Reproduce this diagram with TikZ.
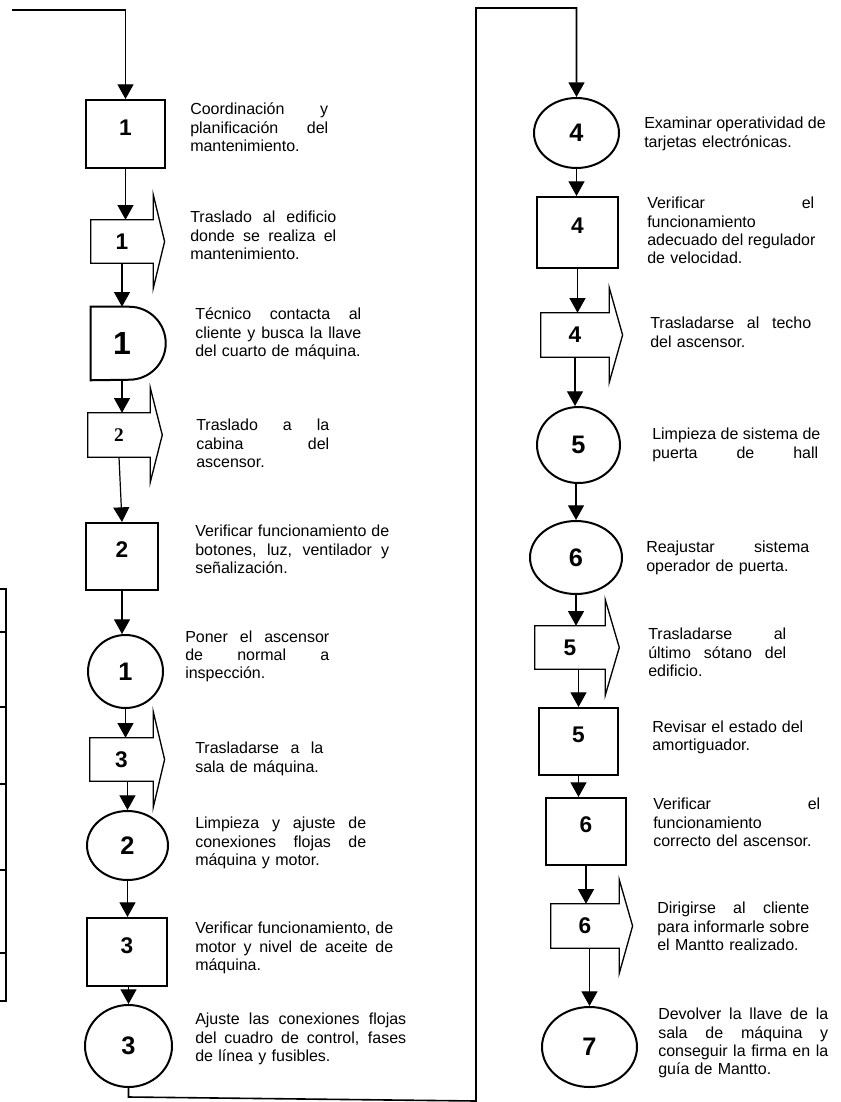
\documentclass[tikz,border=0pt]{standalone}
\usepackage{fontspec}
\setmainfont{Liberation Sans}
\newfontfamily\timesfont{Liberation Serif}
\usepackage{tikz}
\usetikzlibrary{arrows.meta}
\usetikzlibrary{shapes.geometric}

\newcommand{\numfont}{\fontsize{17}{19}\selectfont\bfseries}
\newcommand{\opfont}{\fontsize{19}{21}\selectfont\bfseries}
\newcommand{\notefont}{\fontsize{12}{13.8}\selectfont\parindent=0pt}
\newcommand{\spread}[1]{\leavevmode\hbox to \hsize{\spaceskip=0.278em plus 1fil\strut #1}}
\newcommand{\jline}[1]{\spread{#1}\\}

\begin{document}
\begin{tikzpicture}[x=0.75pt,y=-0.75pt,
            flow/.style={-{Triangle[length=11pt,width=12pt]},line width=0.9pt},
            insp/.style={draw,line width=1.5pt,inner sep=0pt,text depth=10pt,font=\numfont},
            oper/.style={ellipse,draw,line width=1.5pt,inner sep=0pt,font=\opfont},
            trans/.style={inner sep=0pt,font=\numfont},
            outline/.style={line width=1pt},
            note/.style={anchor=north west,inner sep=0pt,align=left,font=\notefont}]
            \useasboundingbox (0,0) rectangle (841,1102);

            \node[insp,minimum width=59.25pt,minimum height=51pt] (b1) at (125.5,134) {1};
            \node[trans,minimum width=46.5pt,minimum height=32.25pt] (t1) at (122,241.5) {1};
            \node[trans,font=\fontsize{24}{26}\selectfont\bfseries,minimum width=46.5pt,minimum height=54.75pt] (d1) at (122,343.5) {1};
            \node[trans,font=\timesfont\fontsize{14.5}{16}\selectfont\bfseries,minimum width=46.5pt,minimum height=33pt] (t2) at (119,435) {2};
            \node[insp,minimum width=54pt,minimum height=50.25pt] (b2) at (122,556.5) {2};
            \node[oper,minimum width=56.25pt,minimum height=54.75pt] (c1) at (125.5,671.5) {1};
            \node[trans,minimum width=47.25pt,minimum height=32.25pt] (t3) at (121.5,759.5) {3};
            \node[oper,minimum width=60.75pt,minimum height=51.75pt] (c2) at (127.5,845.5) {2};
            \node[insp,minimum width=60pt,minimum height=51pt] (b3) at (127,952) {3};
            \node[oper,minimum width=65.25pt,minimum height=61.5pt] (c3) at (128.5,1046) {3};

            \node[oper,minimum width=63.75pt,minimum height=52.5pt] (c4) at (576.5,133) {4};
            \node[insp,minimum width=60.75pt,minimum height=53.25pt] (b4) at (577.5,232.5) {4};
            \node[trans,minimum width=51pt,minimum height=33pt] (t4) at (575,335) {4};
            \node[oper,minimum width=62.25pt,minimum height=57pt] (c5) at (578.5,445) {5};
            \node[oper,minimum width=69pt,minimum height=54.75pt] (c6) at (576,557.5) {6};
            \node[trans,minimum width=52.5pt,minimum height=32.25pt] (t5) at (570,647.5) {5};
            \node[insp,minimum width=59.25pt,minimum height=50.25pt] (b5) at (578.5,741.5) {5};
            \node[insp,minimum width=60pt,minimum height=50.25pt] (b6) at (586,831.5) {6};
            \node[trans,minimum width=51pt,minimum height=33pt] (t6) at (585,926) {6};
            \node[oper,minimum width=71.25pt,minimum height=60pt] (c7) at (589.5,1047) {7};

            \draw[outline] (t1.south west) -- (t1.north west) -- (t1.north east) -- ([yshift=18.75pt]t1.north east) -- ([xshift=8.5pt]t1.east) -- ([yshift=-18.75pt]t1.south east) -- (t1.south east) -- cycle;
            \draw[outline] (t2.south west) -- (t2.north west) -- (t2.north east) -- ([yshift=18.75pt]t2.north east) -- ([xshift=9pt]t2.east) -- ([yshift=-18.75pt]t2.south east) -- (t2.south east) -- cycle;
            \draw[outline] (t3.south west) -- (t3.north west) -- (t3.north east) -- ([yshift=19.5pt]t3.north east) -- ([xshift=8.5pt]t3.east) -- ([yshift=-19.5pt]t3.south east) -- (t3.south east) -- cycle;
            \draw[outline] (t4.south west) -- (t4.north west) -- (t4.north east) -- ([yshift=18.75pt]t4.north east) -- ([xshift=10pt]t4.east) -- ([yshift=-18.75pt]t4.south east) -- (t4.south east) -- cycle;
            \draw[outline] (t5.south west) -- (t5.north west) -- (t5.north east) -- ([yshift=19.5pt]t5.north east) -- ([xshift=10.5pt]t5.east) -- ([yshift=-19.5pt]t5.south east) -- (t5.south east) -- cycle;
            \draw[outline] (t6.south west) -- (t6.north west) -- (t6.north east) -- ([yshift=18pt]t6.north east) -- ([xshift=10pt]t6.east) -- ([yshift=-18.75pt]t6.south east) -- (t6.south east) -- cycle;
            \draw[line width=1.5pt] (d1.south west) -- (d1.north west) -- ++(38.5,0) arc[start angle=-90,end angle=90,radius=36.5] -- cycle;

            \coordinate (start) at (12,10);
            \draw[line width=1.8pt] (start) -- (b1.north |- start);
            \draw[flow] (b1.north |- start) -- (b1.north);
            \draw[flow] (b1.south) -- (b1.south |- t1.north);
            \draw[flow] (t1.south) -- (t1.south |- d1.north);
            \draw[flow] (d1.south) -- (d1.south |- t2.north);
            \draw[flow] (t2.south) -- (b2.north);
            \draw[flow] (b2.south) -- (b2.south |- c1.north);
            \draw[flow] (c1.south) -- (c1.south |- t3.north);
            \draw[flow] (t3.south -| c2.north) -- (c2.north);
            \draw[flow] (c2.south) -- (c2.south |- b3.north);
            \draw[flow] (b3.south -| c3.north) -- (c3.north);

            \coordinate (loopa) at (130,1097);
            \coordinate (loopb) at (476,1101);
            \coordinate (loopc) at (476,8);
            \draw[flow,line width=1.2pt] (c3.south) -- (c3.south |- loopa) -- (loopb) -- (loopc) -- (c4.north |- loopc) -- (c4.north);

            \draw[flow] (c4.south) -- (c4.south |- b4.north);
            \draw[flow] (b4.south) -- (b4.south |- t4.north);
            \draw[flow] (t4.south) -- (t4.south |- c5.north);
            \draw[flow] (c5.south -| c6.north) -- (c6.north);
            \draw[flow] (c6.south) -- (c6.south |- t5.north);
            \draw[flow] (t5.south -| b5.north) -- (b5.north);
            \draw[flow] (b5.south) -- (b5.south |- b6.north);
            \draw[flow] (b6.south) -- (b6.south |- t6.north);
            \draw[flow] (t6.south -| c7.north) -- (c7.north);

            \draw[line width=1pt] (0,589) -- (6,589) -- (6,1001) -- (0,1001);
            \foreach \y in {632,707,784,870,953} \draw[line width=1pt] (0,\y) -- (6,\y);

            \node[note,text width=103.5pt] (n1) at (190,101.5) {\jline{Coordinación y}\jline{planificación del}mantenimiento.};
            \node[note,text width=109.5pt] (n2) at (190,209.5) {\jline{Traslado al edificio}\jline{donde se realiza el}mantenimiento.};
            \node[note,text width=124.5pt] (n3) at (195,306.5) {\jline{Técnico contacta al}\jline{cliente y busca la llave}del cuarto de máquina.};
            \node[note,text width=99.75pt] (n4) at (196,417.5) {\jline{Traslado a la}\jline{cabina del}ascensor.};
            \node[note,text width=145.5pt] (n5) at (195,523.5) {\jline{Verificar funcionamiento de}\jline{botones, luz, ventilador y}señalización.};
            \node[note,text width=108pt] (n6) at (185,629) {\jline{Poner el ascensor}\jline{de normal a}inspección.};
            \node[note,text width=96pt] (n7) at (195,740.5) {\jline{Trasladarse a la}sala de máquina.};
            \node[note,text width=128.25pt] (n8) at (195,815.5) {\jline{Limpieza y ajuste de}\jline{conexiones flojas de}máquina y motor.};
            \node[note,text width=148.5pt] (n9) at (195,920.5) {\jline{Verificar funcionamiento, de}\jline{motor y nivel de aceite de}máquina.};
            \node[note,text width=158.25pt] (n10) at (195,1011.5) {\jline{Ajuste las conexiones flojas}\jline{del cuadro de control, fases}de línea y fusibles.};

            \node[note,text width=135pt] (n11) at (644,115.5) {\jline{Examinar operatividad de}tarjetas electrónicas.};
            \node[note,text width=125.25pt] (n12) at (647,195.5) {\jline{Verificar el}funcionamiento\\\jline{adecuado del regulador}de velocidad.};
            \node[note,text width=120.75pt] (n13) at (650,315.5) {\jline{Trasladarse al techo}del ascensor.};
            \node[note,text width=124.5pt] (n14) at (652,426.5) {\jline{Limpieza de sistema de}\spread{puerta de hall}};
            \node[note,text width=122.25pt] (n15) at (646,539.5) {\jline{Reajustar sistema}operador de puerta.};
            \node[note,text width=103.5pt] (n16) at (648,626.5) {\jline{Trasladarse al}\jline{último sótano del}edificio.};
            \node[note,text width=113.25pt] (n17) at (652,719) {\jline{Revisar el estado del}amortiguador.};
            \node[note,text width=125.25pt] (n18) at (653,796.5) {\jline{Verificar el}funcionamiento\\correcto del ascensor.};
            \node[note,text width=114pt] (n19) at (657,900.5) {\jline{Dirigirse al cliente}\jline{para informarle sobre}el Mantto realizado.};
            \node[note,text width=127.5pt] (n20) at (658,1006.5) {\jline{Devolver la llave de la}\jline{sala de máquina y}\jline{conseguir la firma en la}guía de Mantto.};
        \end{tikzpicture}
\end{document}
